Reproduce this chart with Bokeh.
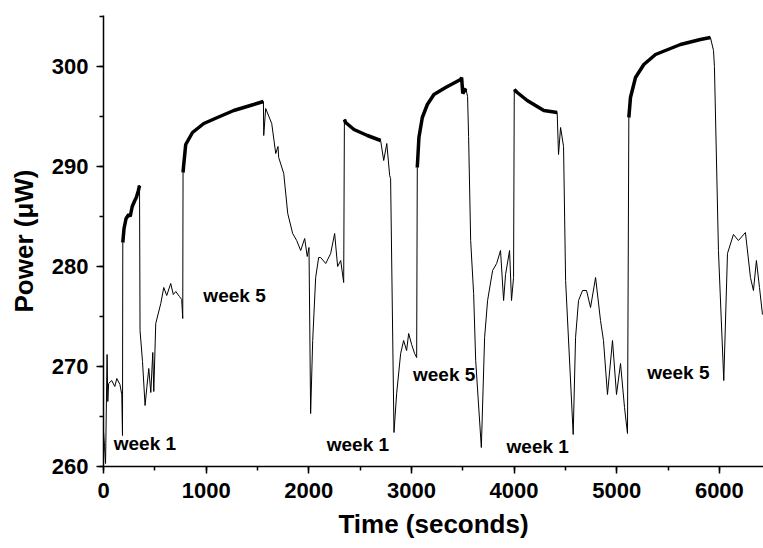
from bokeh.plotting import figure
from bokeh.models import Range1d, SingleIntervalTicker, Label
from bokeh.embed import file_html
from bokeh.resources import INLINE

# ---- data ----
time_s = [0, 10, 20, 35, 42, 50, 80, 110, 130, 160, 178, 185, 188, 200, 220, 246, 260, 280, 305, 320, 340, 351,
          356, 380, 405, 422, 441, 461, 480, 490, 509, 558, 587, 616, 655, 680, 704, 740, 762, 772,
          775, 779, 801, 867, 977, 1110, 1269, 1463, 1558,
          1561, 1580, 1639, 1678, 1700, 1707, 1756, 1795, 1843, 1882, 1921, 1960, 1985, 2002,
          2018, 2038, 2067, 2096, 2116, 2165, 2213, 2252, 2281, 2311, 2340,
          2347, 2359, 2440, 2571, 2700, 2730, 2760, 2788, 2797,
          2830, 2856, 2895, 2924, 2953, 2973, 3002, 3031, 3051,
          3057, 3073, 3106, 3155, 3219, 3333, 3479, 3489, 3500, 3530, 3547, 3557,
          3577, 3606, 3626, 3681, 3713, 3742, 3791, 3830, 3868, 3898, 3917, 3956, 3975, 3995,
          4002, 4031, 4128, 4290, 4420, 4433, 4453, 4482, 4502,
          4576, 4599, 4628, 4667, 4706, 4745, 4794, 4842, 4871, 4910, 4959, 4998, 5037, 5076, 5105,
          5118, 5134, 5183, 5264, 5378, 5475, 5621, 5815, 5913, 5943, 5952,
          5991, 6043, 6079, 6137, 6186, 6254, 6303, 6332, 6361, 6391, 6420]
power_uw = [263.5, 262.0, 260.3, 271.2, 266.5, 268.3, 268.6, 268.0, 268.8, 268.2, 267.2, 263.1, 282.4, 283.8, 284.8, 285.2, 285.0, 286.0, 286.6, 286.9, 287.6, 288.1,
            273.6, 270.5, 266.1, 267.9, 269.8, 267.4, 271.4, 267.5, 274.3, 276.3, 277.9, 277.1, 278.3, 277.2, 277.5, 277.0, 276.7, 274.8,
            289.4, 289.9, 292.2, 293.4, 294.3, 294.9, 295.6, 296.2, 296.5,
            293.1, 295.8, 294.3, 291.3, 292.0, 290.9, 289.3, 285.3, 283.3, 282.6, 281.6, 282.8, 281.0, 281.9,
            265.3, 272.6, 278.9, 280.9, 280.9, 280.3, 281.3, 283.3, 280.0, 280.6, 278.4,
            294.7, 294.4, 293.7, 293.1, 292.6, 290.6, 292.3, 289.1, 288.8,
            263.4, 267.3, 271.3, 272.6, 271.6, 273.3, 272.2, 271.3, 270.9,
            289.9, 292.9, 294.9, 296.2, 297.2, 297.9, 298.7, 298.9, 297.3, 297.8, 297.0, 293.0,
            282.6, 277.3, 270.6, 261.9, 272.9, 276.6, 279.6, 280.3, 281.6, 276.6, 279.2, 281.6, 276.6, 278.9,
            297.7, 297.4, 296.6, 295.6, 295.4, 291.2, 293.9, 292.0, 278.6,
            263.2, 272.9, 276.6, 277.6, 277.6, 275.9, 278.9, 274.6, 272.6, 267.2, 272.6, 267.2, 270.3, 265.9, 263.3,
            294.9, 296.9, 298.9, 300.2, 301.2, 301.6, 302.2, 302.7, 302.9, 301.6, 300.0,
            281.6, 268.6, 281.3, 283.2, 282.6, 283.4, 278.9, 277.6, 280.6, 277.9, 275.2]

# time windows where the trace is a thick noisy band
band_start = [188, 775, 2347, 3057, 4002, 5118]
band_end = [351, 1558, 2700, 3530, 4420, 5913]

label_text = ["week 1", "week 5", "week 1", "week 5", "week 1", "week 5"]
label_t = [100, 973, 2175, 3015, 3927, 5297]
label_p = [262.3, 277.1, 262.2, 269.2, 262.0, 269.4]

x_title = "Time (seconds)"
y_title = "Power (\u03bcW)"

FONT = "Liberation Sans"

p = figure(width=763, height=548, output_backend="svg", toolbar_location=None,
           x_range=Range1d(0, 6430), y_range=Range1d(260, 305.1),
           min_border_left=103, min_border_top=15, min_border_right=0, min_border_bottom=82)
p.outline_line_color = None
p.xgrid.visible = False
p.ygrid.visible = False
p.background_fill_color = "white"
p.border_fill_color = "white"

p.line(time_s, power_uw, line_color="black", line_width=1.0)
for s, e in zip(band_start, band_end):
    ts = [t for t in time_s if s <= t <= e]
    ps = [v for t, v in zip(time_s, power_uw) if s <= t <= e]
    p.line(ts, ps, line_color="black", line_width=3.5)

for txt, t, v in zip(label_text, label_t, label_p):
    p.add_layout(Label(x=t, y=v, text=txt, text_font=FONT, text_font_style="bold",
                       text_font_size="19px", text_baseline="middle", text_align="left",
                       text_color="black"))

p.xaxis.ticker = SingleIntervalTicker(interval=1000, num_minor_ticks=2)
p.yaxis.ticker = SingleIntervalTicker(interval=10, num_minor_ticks=2)
p.xaxis.axis_label = x_title
p.yaxis.axis_label = y_title
for ax in (p.xaxis, p.yaxis):
    ax.axis_line_width = 1.5
    ax.axis_line_color = "black"
    ax.major_tick_line_width = 1.5
    ax.minor_tick_line_width = 1.5
    ax.major_tick_out = 7
    ax.major_tick_in = 0
    ax.minor_tick_out = 4
    ax.minor_tick_in = 0
    ax.major_label_text_font = FONT
    ax.major_label_text_font_style = "bold"
    ax.major_label_text_font_size = "22px"
    ax.major_label_text_color = "black"
    ax.axis_label_text_font = FONT
    ax.axis_label_text_font_style = "bold"
    ax.axis_label_text_font_size = "26px"
    ax.axis_label_text_color = "black"
p.xaxis.major_label_standoff = 9
p.yaxis.major_label_standoff = 8
p.xaxis.axis_label_standoff = 8
p.yaxis.axis_label_standoff = 10

open("out.html", "w").write(file_html(p, INLINE))
